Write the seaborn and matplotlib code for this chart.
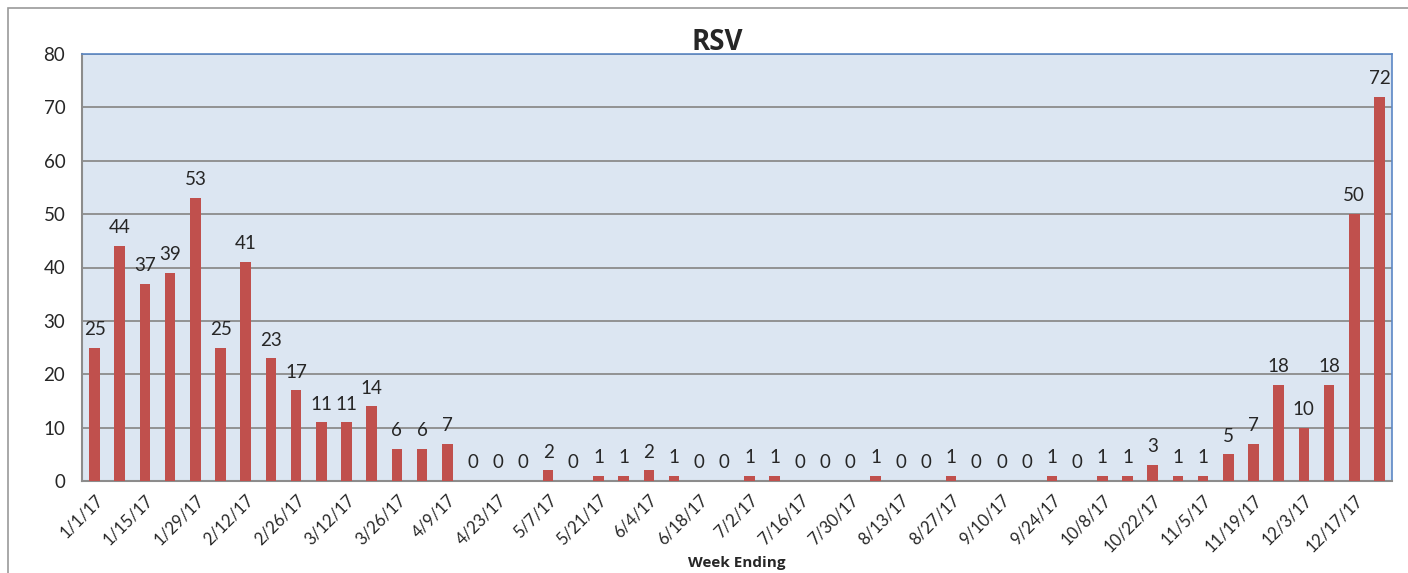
import pandas as pd
import matplotlib.pyplot as plt
import seaborn as sns
from matplotlib.patches import Rectangle

# weekly RSV counts, week ending 1/1/17 .. 12/24/17
weeks = [f"{d.month}/{d.day}/{d.strftime('%y')}" for d in pd.date_range("2017-01-01", periods=52, freq="7D")]
counts = [25, 44, 37, 39, 53, 25, 41, 23, 17, 11, 11, 14, 6, 6, 7, 0, 0, 0, 2, 0,
          1, 1, 2, 1, 0, 0, 1, 1, 0, 0, 0, 1, 0, 0, 1, 0, 0, 0, 1, 0,
          1, 1, 3, 1, 1, 5, 7, 18, 10, 18, 50, 72]
y_ticks = [0, 10, 20, 30, 40, 50, 60, 70, 80]

df = pd.DataFrame({"week": weeks, "count": counts})

sns.set_style("white")
plt.rcParams["font.family"] = ["Lato", "DejaVu Sans"]

fig = plt.figure(figsize=(14.08, 5.73), dpi=100)
ax = fig.add_axes([82 / 1408, 1 - 481 / 573, (1392 - 82) / 1408, (481 - 54) / 573])

# outer chart frame
fig.patches.append(Rectangle((8 / 1408, -0.05), 1.1, 1 - 8 / 573 + 0.05, transform=fig.transFigure,
                             fill=False, edgecolor="#9a9a9a", linewidth=1.2, zorder=0))

sns.barplot(data=df, x="week", y="count", color="#C0504D", width=0.42, saturation=1,
            linewidth=0, ax=ax, zorder=3)
ax.bar_label(ax.containers[0], fontsize=13.5, padding=7)

ax.set_facecolor("#DCE6F2")
ax.set_ylim(0, 80)
ax.set_xlim(-0.5, len(weeks) - 0.5)
ax.set_yticks(y_ticks)
ax.yaxis.grid(True, color="#8c8c8c", linewidth=1.3, zorder=1)
ax.set_axisbelow(True)

ax.set_xticks(range(0, len(weeks), 2))
ax.set_xticklabels(weeks[::2], rotation=45, ha="right", rotation_mode="anchor", fontsize=12)
ax.tick_params(axis="both", length=0)
ax.tick_params(axis="y", labelsize=13.5, pad=12)
ax.tick_params(axis="x", pad=8)

for side in ["left", "bottom"]:
    ax.spines[side].set_color("#8c8c8c")
    ax.spines[side].set_linewidth(1.5)
for side in ["top", "right"]:
    ax.spines[side].set_visible(True)
    ax.spines[side].set_color("#5B87C5")
    ax.spines[side].set_linewidth(1.2)

ax.set_title("RSV", fontsize=20, fontweight="bold", family=["Open Sans", "DejaVu Sans"], pad=3, x=0.485)
ax.set_xlabel("Week Ending", fontsize=11, fontweight="bold", family=["Open Sans", "DejaVu Sans"], labelpad=1)
ax.set_ylabel("")

fig.savefig("out.png", dpi=100)
